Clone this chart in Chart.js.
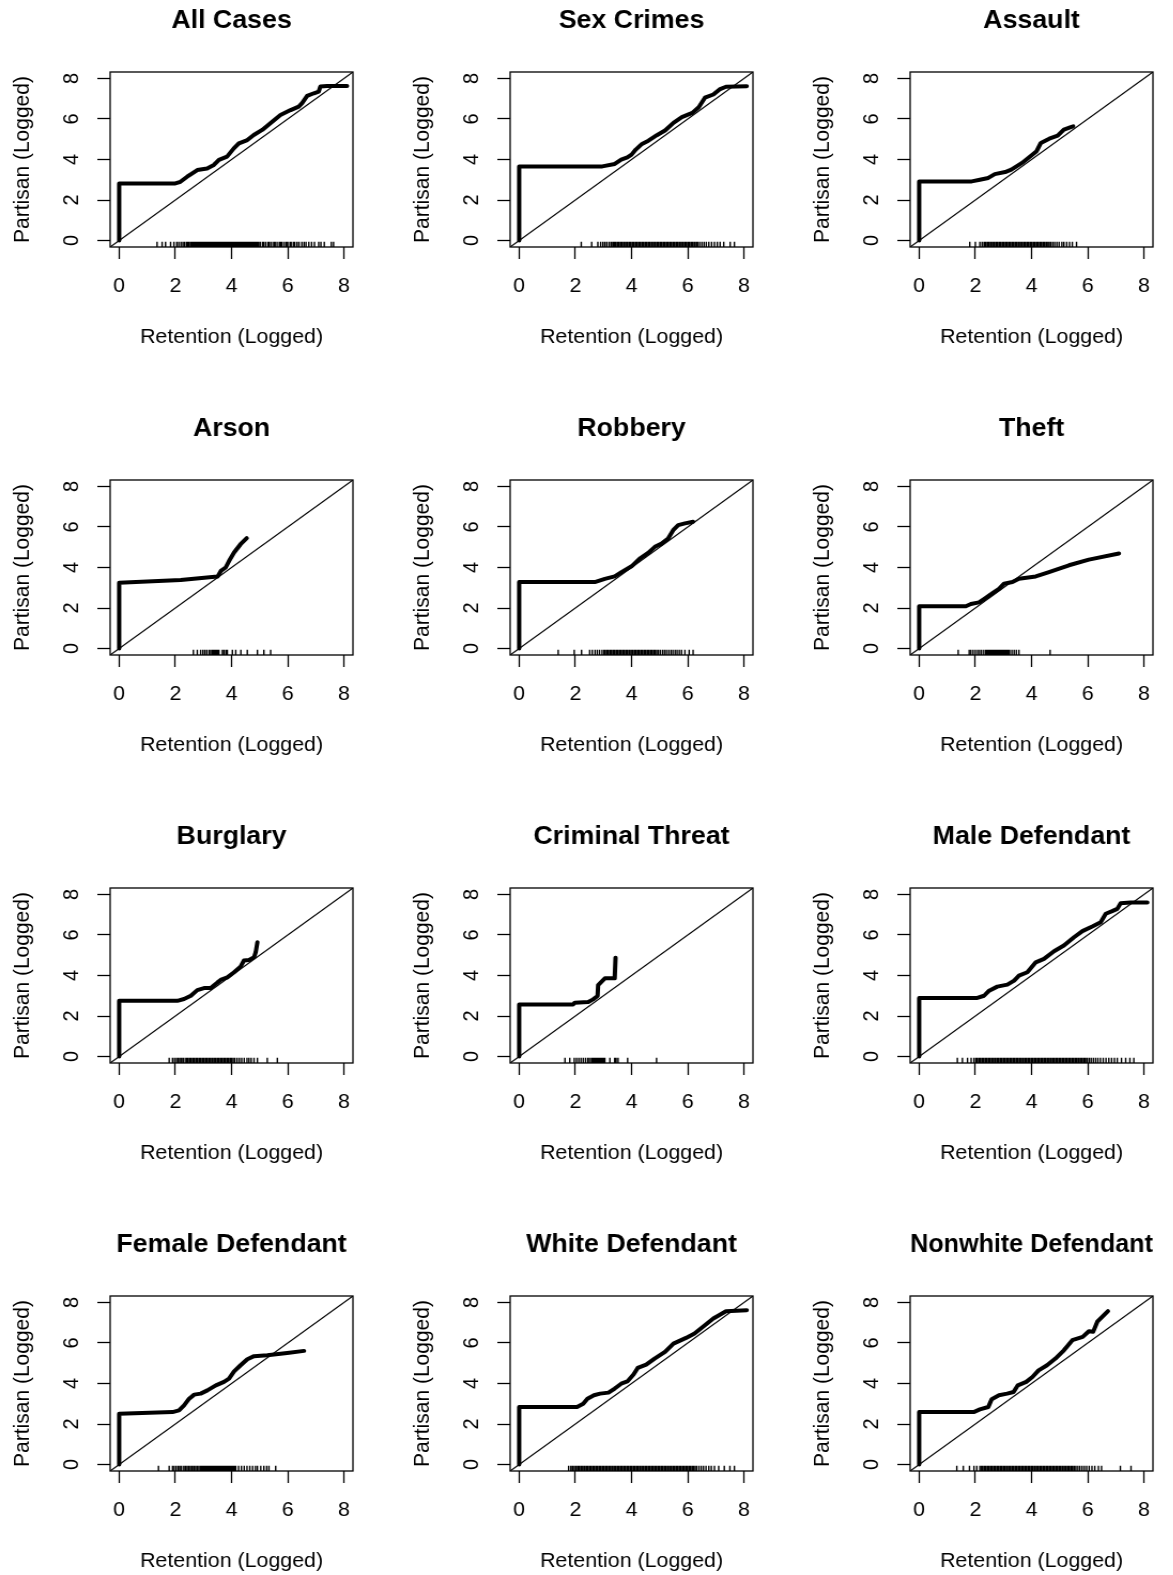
<!DOCTYPE html>
<html>
<head>
<meta charset="utf-8">
<script src="https://cdn.jsdelivr.net/npm/chart.js@4.4.1/dist/chart.umd.min.js"></script>
<style>
  body { margin: 0; background: #fff; width: 1173px; height: 1575px; overflow: hidden; position: relative; }
  .panel { position: absolute; width: 374px; height: 408px; transform: scaleX(1.0695); transform-origin: 0 0; }
</style>
</head>
<body>
<script>
// axis setup shared by every panel
const axisMin = -0.32;
const axisMax = 8.32;
const tickValues = [0, 2, 4, 6, 8];
const panelTitles = ['All Cases', 'Sex Crimes', 'Assault', 'Arson', 'Robbery', 'Theft',
  'Burglary', 'Criminal Threat', 'Male Defendant', 'Female Defendant', 'White Defendant', 'Nonwhite Defendant'];

// QQ curves (retention quantiles vs partisan quantiles)
const qqAllCasesX = [0, 0, 2.0, 2.18, 2.42, 2.78, 3.13, 3.37, 3.55, 3.84, 4.08, 4.26, 4.56, 4.79, 5.09, 5.38, 5.74, 6.1, 6.39, 6.51, 6.69, 6.93, 7.1, 7.16, 7.4, 8.11];
const qqAllCasesY = [0, 2.82, 2.82, 2.9, 3.15, 3.48, 3.56, 3.73, 3.98, 4.14, 4.55, 4.8, 4.96, 5.21, 5.46, 5.79, 6.2, 6.44, 6.61, 6.78, 7.14, 7.27, 7.35, 7.6, 7.63, 7.63];
const qqSexCrimesX = [0, 0, 2.96, 3.4, 3.63, 3.85, 4.0, 4.15, 4.37, 4.6, 4.9, 5.19, 5.49, 5.79, 6.16, 6.39, 6.61, 6.91, 7.13, 7.36, 8.1];
const qqSexCrimesY = [0, 3.66, 3.66, 3.78, 3.99, 4.1, 4.24, 4.49, 4.77, 4.93, 5.2, 5.43, 5.81, 6.09, 6.3, 6.58, 7.05, 7.21, 7.46, 7.59, 7.62];
const qqAssaultX = [0, 0, 1.87, 2.16, 2.46, 2.69, 3.06, 3.28, 3.66, 3.96, 4.18, 4.33, 4.63, 4.93, 5.15, 5.37, 5.48];
const qqAssaultY = [0, 2.92, 2.92, 3.0, 3.09, 3.28, 3.38, 3.5, 3.83, 4.16, 4.41, 4.82, 5.03, 5.18, 5.48, 5.59, 5.64];
const qqArsonX = [0, 0, 2.19, 3.5, 3.62, 3.79, 3.91, 4.09, 4.32, 4.54];
const qqArsonY = [0, 3.25, 3.38, 3.55, 3.83, 4.0, 4.32, 4.74, 5.15, 5.45];
const qqRobberyX = [0, 0, 2.69, 3.05, 3.4, 3.64, 4.0, 4.29, 4.59, 4.83, 5.07, 5.3, 5.48, 5.66, 5.9, 6.19];
const qqRobberyY = [0, 3.28, 3.28, 3.44, 3.56, 3.77, 4.06, 4.44, 4.72, 5.02, 5.18, 5.43, 5.84, 6.09, 6.18, 6.26];
const qqTheftX = [0, 0, 1.66, 1.84, 2.13, 2.37, 2.61, 2.84, 3.02, 3.32, 3.55, 4.15, 4.62, 5.33, 6.04, 7.11];
const qqTheftY = [0, 2.09, 2.09, 2.2, 2.28, 2.5, 2.73, 2.95, 3.2, 3.28, 3.44, 3.56, 3.77, 4.11, 4.39, 4.69];
const qqBurglaryX = [0, 0, 2.07, 2.31, 2.55, 2.78, 3.02, 3.26, 3.5, 3.61, 3.85, 4.09, 4.32, 4.44, 4.62, 4.8, 4.86, 4.92];
const qqBurglaryY = [0, 2.75, 2.75, 2.84, 3.0, 3.28, 3.38, 3.38, 3.66, 3.78, 3.91, 4.16, 4.44, 4.74, 4.77, 4.9, 5.15, 5.64];
const qqThreatX = [0, 0, 1.92, 1.98, 2.46, 2.63, 2.79, 2.81, 3.05, 3.4, 3.43];
const qqThreatY = [0, 2.57, 2.57, 2.66, 2.69, 2.82, 2.99, 3.53, 3.86, 3.86, 4.88];
const qqMaleX = [0, 0, 2.07, 2.31, 2.49, 2.78, 3.14, 3.38, 3.55, 3.85, 4.15, 4.44, 4.8, 5.15, 5.51, 5.81, 6.16, 6.46, 6.64, 6.87, 7.05, 7.17, 7.52, 8.12];
const qqMaleY = [0, 2.89, 2.89, 3.0, 3.25, 3.45, 3.55, 3.75, 3.99, 4.16, 4.65, 4.82, 5.2, 5.48, 5.89, 6.19, 6.42, 6.63, 7.05, 7.18, 7.29, 7.57, 7.6, 7.6];
const qqFemaleX = [0, 0, 1.9, 2.13, 2.31, 2.49, 2.67, 2.9, 3.14, 3.44, 3.73, 3.91, 4.09, 4.32, 4.56, 4.8, 5.27, 5.98, 6.58];
const qqFemaleY = [0, 2.51, 2.59, 2.67, 2.92, 3.25, 3.45, 3.5, 3.66, 3.91, 4.08, 4.24, 4.6, 4.9, 5.2, 5.35, 5.4, 5.51, 5.61];
const qqWhiteX = [0, 0, 2.06, 2.28, 2.43, 2.66, 2.88, 3.18, 3.4, 3.63, 3.85, 4.07, 4.22, 4.52, 4.82, 5.19, 5.49, 5.94, 6.24, 6.61, 6.91, 7.36, 8.1];
const qqWhiteY = [0, 2.84, 2.84, 3.0, 3.25, 3.42, 3.5, 3.55, 3.75, 3.99, 4.1, 4.44, 4.77, 4.93, 5.23, 5.56, 5.97, 6.25, 6.47, 6.88, 7.21, 7.57, 7.62];
const qqNonwhiteX = [0, 0, 1.94, 2.16, 2.46, 2.58, 2.84, 3.13, 3.36, 3.51, 3.81, 4.03, 4.25, 4.55, 4.85, 5.15, 5.45, 5.82, 6.04, 6.19, 6.34, 6.72];
const qqNonwhiteY = [0, 2.59, 2.59, 2.72, 2.84, 3.22, 3.42, 3.5, 3.58, 3.91, 4.08, 4.32, 4.65, 4.9, 5.23, 5.64, 6.14, 6.3, 6.58, 6.55, 7.05, 7.57];

// rug marks (retention values along the bottom)
const rugAllCases = [1.35,1.53,1.65,1.83,1.95,2.05,2.12,2.2,2.27,2.33,2.4,2.45,2.5,2.56,2.61,2.66,2.7,2.75,2.79,2.84,2.89,2.93,2.98,3.03,3.08,3.12,3.17,3.22,3.26,3.31,3.36,3.4,3.45,3.5,3.55,3.59,3.64,3.69,3.73,3.78,3.83,3.88,3.92,3.97,4.02,4.06,4.11,4.16,4.2,4.25,4.3,4.35,4.39,4.44,4.49,4.53,4.58,4.63,4.68,4.72,4.77,4.82,4.86,4.91,4.96,5.02,5.1,5.15,5.22,5.3,5.35,5.42,5.5,5.55,5.62,5.7,5.75,5.8,5.88,5.95,6.0,6.08,6.12,6.2,6.25,6.33,6.4,6.5,6.58,6.65,6.75,6.85,6.95,7.1,7.18,7.3,7.55,7.63];
const rugSexCrimes = [2.21,2.58,2.8,2.9,2.98,3.05,3.12,3.2,3.27,3.33,3.38,3.43,3.49,3.54,3.6,3.65,3.71,3.76,3.82,3.87,3.93,3.98,4.04,4.09,4.15,4.2,4.26,4.31,4.37,4.42,4.48,4.53,4.59,4.64,4.7,4.75,4.81,4.86,4.92,4.97,5.03,5.08,5.14,5.19,5.25,5.3,5.36,5.41,5.47,5.52,5.58,5.63,5.69,5.74,5.8,5.85,5.91,5.96,6.02,6.07,6.13,6.18,6.24,6.3,6.35,6.42,6.5,6.58,6.66,6.75,6.85,6.95,7.05,7.15,7.28,7.51,7.66];
const rugAssault = [1.8,2.0,2.16,2.24,2.31,2.36,2.42,2.47,2.53,2.58,2.64,2.69,2.75,2.8,2.86,2.91,2.97,3.02,3.08,3.13,3.19,3.24,3.3,3.35,3.41,3.46,3.52,3.57,3.63,3.68,3.74,3.79,3.85,3.9,3.96,4.01,4.07,4.12,4.18,4.23,4.29,4.34,4.4,4.45,4.51,4.56,4.62,4.68,4.75,4.82,4.9,4.98,5.08,5.15,5.25,5.35,5.45,5.6];
const rugArson = [2.64,2.78,2.9,2.98,3.05,3.12,3.2,3.26,3.32,3.37,3.41,3.45,3.48,3.52,3.55,3.67,3.73,3.8,3.85,4.03,4.15,4.33,4.56,4.92,5.15,5.39];
const rugRobbery = [1.39,1.96,2.22,2.51,2.6,2.7,2.78,2.86,2.95,3.02,3.07,3.13,3.18,3.24,3.29,3.35,3.4,3.46,3.51,3.57,3.62,3.68,3.73,3.79,3.84,3.9,3.95,4.01,4.06,4.12,4.17,4.23,4.28,4.34,4.39,4.45,4.5,4.56,4.61,4.67,4.72,4.78,4.83,4.89,4.95,5.02,5.1,5.17,5.24,5.32,5.4,5.47,5.55,5.62,5.7,5.78,5.9,6.05,6.19];
const rugTheft = [1.39,1.78,1.84,1.92,2.0,2.08,2.15,2.22,2.3,2.37,2.42,2.47,2.52,2.57,2.62,2.67,2.72,2.77,2.82,2.87,2.92,2.97,3.02,3.07,3.12,3.17,3.22,3.3,3.38,3.46,3.55,4.66];
const rugBurglary = [1.78,1.9,1.97,2.04,2.1,2.16,2.22,2.28,2.35,2.41,2.46,2.52,2.57,2.63,2.68,2.74,2.79,2.85,2.9,2.96,3.01,3.07,3.12,3.18,3.23,3.29,3.34,3.4,3.45,3.51,3.56,3.62,3.67,3.73,3.78,3.84,3.89,3.95,4.0,4.06,4.12,4.2,4.28,4.36,4.45,4.55,4.62,4.7,4.8,4.92,5.27,5.63];
const rugThreat = [1.63,1.8,1.96,2.04,2.12,2.2,2.28,2.36,2.44,2.5,2.57,2.62,2.66,2.7,2.74,2.78,2.82,2.86,2.9,2.95,3.0,3.05,3.23,3.4,3.45,3.52,3.86,4.89];
const rugMale = [1.36,1.54,1.72,1.85,1.95,2.02,2.07,2.13,2.18,2.24,2.29,2.35,2.4,2.46,2.51,2.57,2.62,2.68,2.73,2.79,2.84,2.9,2.95,3.01,3.06,3.12,3.17,3.23,3.28,3.34,3.39,3.45,3.5,3.56,3.61,3.67,3.72,3.78,3.83,3.89,3.94,4.0,4.05,4.11,4.16,4.22,4.27,4.33,4.38,4.44,4.49,4.55,4.6,4.66,4.71,4.77,4.82,4.88,4.93,4.99,5.04,5.1,5.15,5.21,5.26,5.32,5.37,5.43,5.48,5.54,5.59,5.65,5.7,5.76,5.81,5.87,5.92,5.98,6.05,6.12,6.2,6.28,6.36,6.45,6.55,6.65,6.75,6.85,6.95,7.05,7.2,7.35,7.5,7.64];
const rugFemale = [1.4,1.78,1.9,1.96,2.03,2.1,2.16,2.22,2.3,2.36,2.42,2.48,2.54,2.6,2.66,2.72,2.78,2.84,2.9,2.95,3.0,3.05,3.1,3.15,3.2,3.25,3.3,3.35,3.4,3.45,3.5,3.55,3.6,3.65,3.7,3.75,3.8,3.85,3.9,3.95,4.0,4.05,4.1,4.15,4.25,4.35,4.45,4.55,4.65,4.75,4.85,4.92,5.04,5.15,5.25,5.33,5.57];
const rugWhite = [1.76,1.84,1.9,1.96,2.02,2.08,2.13,2.19,2.24,2.3,2.35,2.41,2.46,2.52,2.57,2.63,2.68,2.74,2.79,2.85,2.9,2.96,3.01,3.07,3.12,3.18,3.23,3.29,3.34,3.4,3.45,3.51,3.56,3.62,3.67,3.73,3.78,3.84,3.89,3.95,4.0,4.06,4.11,4.17,4.22,4.28,4.33,4.39,4.44,4.5,4.55,4.61,4.66,4.72,4.77,4.83,4.88,4.94,4.99,5.05,5.1,5.16,5.21,5.27,5.32,5.38,5.43,5.49,5.54,5.6,5.65,5.71,5.76,5.82,5.87,5.93,5.98,6.04,6.09,6.15,6.2,6.26,6.32,6.4,6.48,6.56,6.65,6.75,6.84,6.95,7.1,7.3,7.5,7.66];
const rugNonwhite = [1.34,1.57,1.79,1.95,2.05,2.16,2.22,2.27,2.33,2.38,2.44,2.49,2.55,2.6,2.66,2.71,2.77,2.82,2.88,2.93,2.99,3.04,3.1,3.15,3.21,3.26,3.32,3.37,3.43,3.48,3.54,3.59,3.65,3.7,3.76,3.81,3.87,3.92,3.98,4.03,4.09,4.14,4.2,4.25,4.31,4.36,4.42,4.47,4.53,4.58,4.64,4.69,4.75,4.8,4.86,4.91,4.97,5.02,5.08,5.13,5.19,5.24,5.3,5.35,5.41,5.46,5.52,5.58,5.65,5.72,5.8,5.88,5.96,6.05,6.15,6.25,6.38,6.49,7.16,7.54];

const curvesX = [qqAllCasesX, qqSexCrimesX, qqAssaultX, qqArsonX, qqRobberyX, qqTheftX, qqBurglaryX, qqThreatX, qqMaleX, qqFemaleX, qqWhiteX, qqNonwhiteX];
const curvesY = [qqAllCasesY, qqSexCrimesY, qqAssaultY, qqArsonY, qqRobberyY, qqTheftY, qqBurglaryY, qqThreatY, qqMaleY, qqFemaleY, qqWhiteY, qqNonwhiteY];
const rugs = [rugAllCases, rugSexCrimes, rugAssault, rugArson, rugRobbery, rugTheft, rugBurglary, rugThreat, rugMale, rugFemale, rugWhite, rugNonwhite];

Chart.defaults.font.family = '"Liberation Sans", Arial, Helvetica, sans-serif';
Chart.defaults.color = '#000';

// box around the plot region + rug ticks pointing inward from the bottom
function makeFrame(rugValues) {
  return {
    id: 'rFrame',
    afterDatasetsDraw(chart) {
      const { ctx, chartArea: a, scales: { x } } = chart;
      const len = (a.bottom - a.top) * 0.03;
      ctx.save();
      ctx.strokeStyle = '#000';
      ctx.lineWidth = 1.4;
      ctx.beginPath();
      rugValues.forEach(v => {
        const px = x.getPixelForValue(v);
        ctx.moveTo(px, a.bottom);
        ctx.lineTo(px, a.bottom - len);
      });
      ctx.stroke();
      ctx.lineWidth = 1.3;
      ctx.strokeRect(a.left, a.top, a.right - a.left, a.bottom - a.top);
      ctx.restore();
    }
  };
}

function fixedTicks(scale) {
  scale.ticks = tickValues.map(v => ({ value: v }));
}

panelTitles.forEach((title, i) => {
  const div = document.createElement('div');
  div.className = 'panel';
  div.style.left = (i % 3) * 400 + 'px';
  div.style.top = Math.floor(i / 3) * 408 + 'px';
  const canvas = document.createElement('canvas');
  canvas.width = 374;
  canvas.height = 408;
  div.appendChild(canvas);
  document.body.appendChild(div);

  const curve = curvesX[i].map((v, k) => ({ x: v, y: curvesY[i][k] }));

  new Chart(canvas, {
    type: 'scatter',
    data: {
      datasets: [
        {
          // 45 degree reference line
          data: [{ x: axisMin, y: axisMin }, { x: axisMax, y: axisMax }],
          showLine: true, borderColor: '#000', borderWidth: 1.2, pointRadius: 0
        },
        {
          data: curve,
          showLine: true, borderColor: '#000', borderWidth: 4, pointRadius: 0,
          borderCapStyle: 'round', borderJoinStyle: 'round', tension: 0
        }
      ]
    },
    options: {
      responsive: false,
      animation: false,
      events: [],
      layout: { padding: { left: 0, top: 0, right: 44, bottom: 0 } },
      plugins: {
        legend: { display: false },
        tooltip: { enabled: false },
        title: {
          display: true, text: title, fullSize: false, color: '#000',
          font: { size: 25, weight: 'bold', lineHeight: 1.2 },
          padding: { top: 6, bottom: 36 }
        }
      },
      scales: {
        x: {
          type: 'linear', min: axisMin, max: axisMax,
          afterBuildTicks: fixedTicks,
          afterFit: s => { s.height = 161; },
          grid: { drawOnChartArea: false, drawTicks: true, tickLength: 12, tickColor: '#000', tickWidth: 1.3 },
          border: { display: false },
          ticks: { autoSkip: false, maxRotation: 0, padding: 15, color: '#000', font: { size: 20 }, callback: v => String(v) },
          title: { display: true, text: 'Retention (Logged)', color: '#000', font: { size: 20 }, padding: { top: 0, bottom: 59 } }
        },
        y: {
          type: 'linear', min: axisMin, max: axisMax,
          afterBuildTicks: fixedTicks,
          afterFit: s => { s.width = 103; },
          grid: { drawOnChartArea: false, drawTicks: true, tickLength: 12, tickColor: '#000', tickWidth: 1.3 },
          border: { display: false },
          ticks: { autoSkip: false, minRotation: 90, maxRotation: 90, crossAlign: 'center', padding: 17.6, color: '#000', font: { size: 20 }, callback: v => String(v) },
          title: { display: true, text: 'Partisan (Logged)', color: '#000', font: { size: 21 }, padding: { top: 9, bottom: 0 } }
        }
      }
    },
    plugins: [makeFrame(rugs[i])]
  });
});
</script>
</body>
</html>
